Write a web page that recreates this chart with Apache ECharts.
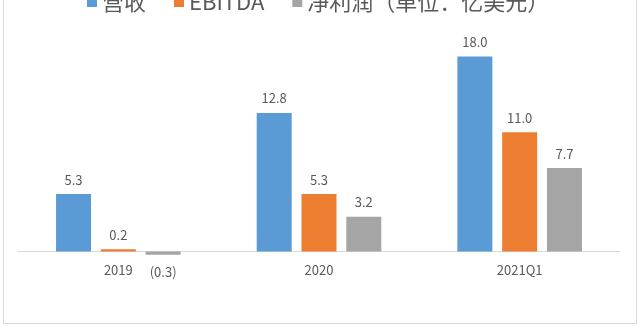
<!DOCTYPE html>
<html>
<head>
<meta charset="utf-8">
<script src="https://cdn.jsdelivr.net/npm/echarts@6/dist/echarts.min.js"></script>
<style>
  html, body { margin: 0; padding: 0; background: #fff; }
  #chart { width: 640px; height: 327px; }
</style>
</head>
<body>
<div id="chart"></div>
<script>
// Periods and figures (unit: 100 million USD)
const categories = ['2019', '2020', '2021Q1'];
const seriesNames = ['营收', 'EBITDA', '净利润（单位：亿美元）'];
const revenue = [5.3, 12.8, 18.0];
const ebitda = [0.2, 5.3, 11.0];
const netProfit = [-0.3, 3.2, 7.7];

const colors = ['#5B9BD5', '#ED7D31', '#A5A5A5'];
const textColor = '#595959';
const fontFamily = '"Noto Sans CJK SC", "Open Sans", sans-serif';

function fmt(v) {
  const n = typeof v === 'object' ? v.value : v;
  return n < 0 ? '(' + Math.abs(n).toFixed(1) + ')' : n.toFixed(1);
}

function barSeries(name, data, color) {
  return {
    name: name,
    type: 'bar',
    barWidth: 35,
    barGap: '28%',
    clip: false,
    itemStyle: { color: color },
    data: data.map(v => ({
      value: v,
      label: {
        show: true,
        position: v < 0 ? 'bottom' : 'top',
        distance: v < 0 ? 11 : 8,
        formatter: fmt,
        color: textColor,
        fontSize: 13,
        fontFamily: fontFamily
      }
    }))
  };
}

const chart = echarts.init(document.getElementById('chart'), null, { renderer: 'canvas' });
chart.setOption({
  animation: false,
  backgroundColor: '#fff',
  color: colors,
  graphic: [{
    type: 'rect',
    shape: { x: 3.5, y: -10, width: 633, height: 333.5 },
    style: { fill: 'none', stroke: '#D9D9D9', lineWidth: 1 },
    silent: true
  }],
  legend: {
    top: -14,
    left: 82,
    itemWidth: 10,
    itemHeight: 10,
    itemGap: 28,
    icon: 'rect',
    textStyle: { color: textColor, fontSize: 22, fontFamily: fontFamily },
    data: seriesNames
  },
  grid: { left: 18, right: 20, top: 34.9, bottom: 75.5, containLabel: false },
  xAxis: {
    type: 'category',
    data: categories,
    axisLine: { lineStyle: { color: '#D9D9D9', width: 1 } },
    axisTick: { show: false },
    axisLabel: { color: textColor, fontSize: 13, margin: 12, fontFamily: fontFamily }
  },
  yAxis: {
    type: 'value',
    min: 0,
    max: 20,
    show: false,
    splitLine: { show: false }
  },
  series: [
    barSeries(seriesNames[0], revenue, colors[0]),
    barSeries(seriesNames[1], ebitda, colors[1]),
    barSeries(seriesNames[2], netProfit, colors[2])
  ]
});
</script>
</body>
</html>
